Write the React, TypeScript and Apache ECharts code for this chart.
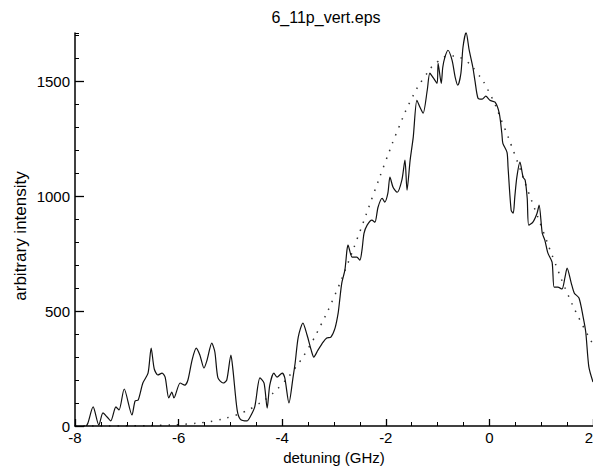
import React, { useEffect, useRef } from "react";
import * as echarts from "echarts";

const titleText = "6_11p_vert.eps";
const xName = "detuning (GHz)";
const yName = "arbitrary intensity";

const measX = [
  -7.78, -7.75, -7.65, -7.54, -7.46, -7.38, -7.31, -7.21, -7.15, -7.05, -6.9, -6.84, -6.78, -6.69, -6.59, -6.53,
  -6.47, -6.4, -6.32, -6.26, -6.19, -6.13, -6.09, -5.97, -5.88, -5.82, -5.74, -5.66, -5.59, -5.51, -5.45, -5.36,
  -5.3, -5.24, -5.14, -5.07, -4.99, -4.95, -4.87, -4.81, -4.68, -4.62, -4.53, -4.43, -4.35, -4.29, -4.24, -4.16,
  -4.1, -4.0, -3.95, -3.87, -3.79, -3.75, -3.69, -3.6, -3.52, -3.44, -3.39, -3.31, -3.21, -3.14, -3.06, -2.98,
  -2.92, -2.89, -2.85, -2.79, -2.75, -2.73, -2.65, -2.56, -2.5, -2.46, -2.42, -2.36, -2.27, -2.21, -2.15, -2.07,
  -2.02, -1.96, -1.92, -1.86, -1.78, -1.69, -1.63, -1.59, -1.53, -1.47, -1.4, -1.34, -1.28, -1.2, -1.15, -1.09,
  -1.01, -0.99, -0.93, -0.9, -0.86, -0.8, -0.72, -0.66, -0.61, -0.55, -0.51, -0.45, -0.39, -0.32, -0.28, -0.22,
  -0.14, -0.07, 0.01, 0.11, 0.19, 0.24, 0.26, 0.34, 0.36, 0.42, 0.46, 0.49, 0.53, 0.59, 0.65, 0.69,
  0.73, 0.76, 0.84, 0.92, 0.96, 1.02, 1.07, 1.13, 1.21, 1.25, 1.32, 1.4, 1.46, 1.5, 1.58, 1.64,
  1.73, 1.81, 1.86, 1.92, 2.0,
];
const measY = [
  0, 13, 83, 4, 57, 39, 22, 83, 70, 161, 48, 109, 113, 187, 230, 339,
  248, 222, 230, 213, 122, 148, 122, 187, 178, 200, 287, 339, 309, 252, 287, 361,
  322, 209, 187, 200, 309, 243, 70, 30, 22, 39, 83, 209, 187, 78, 178, 230,
  213, 230, 209, 100, 213, 274, 387, 448, 396, 330, 300, 330, 365, 383, 387, 426,
  491, 548, 622, 678, 765, 787, 735, 735, 722, 765, 839, 874, 896, 887, 952, 991,
  974, 1013, 1083, 1039, 1017, 1070, 1157, 1026, 1157, 1257, 1417, 1387, 1361, 1461, 1535, 1517,
  1491, 1578, 1491, 1561, 1604, 1635, 1591, 1517, 1483, 1535, 1648, 1713, 1635, 1561, 1504, 1426,
  1422, 1435, 1417, 1409, 1361, 1274, 1230, 1191, 1126, 939, 926, 996, 1083, 1148, 1083, 1070,
  991, 874, 887, 926, 961, 839, 809, 752, 713, 604, 604, 596, 648, 687, 622, 578,
  557, 474, 409, 257, 191,
];

const fitX = [
  -8, -7.75, -7.5, -7.25, -7, -6.75, -6.5, -6.25, -6, -5.75, -5.5, -5.25, -5, -4.75, -4.5, -4.25, -4,
  -3.75, -3.5, -3.25, -3, -2.75, -2.5, -2.25, -2, -1.75, -1.5, -1.25, -1, -0.75, -0.5, -0.25, 0,
  0.25, 0.5, 0.75, 1, 1.25, 1.5, 1.75, 2,
];
const fitY = [
  0, 0, 0, 0, 1, 1, 2, 4, 6, 10, 16, 25, 40, 60, 90, 129, 183,
  252, 337, 441, 561, 698, 846, 1001, 1154, 1299, 1425, 1520, 1585, 1610, 1595, 1540, 1450,
  1320, 1175, 1020, 870, 720, 580, 460, 355,
];

const yMajorTicks = [0, 500, 1000, 1500];

const FONT = "Liberation Sans, Arial, Helvetica, sans-serif";

export default function App() {
  const ref = useRef<HTMLDivElement>(null);
  useEffect(() => {
    if (!ref.current) return;
    const chart = echarts.init(ref.current, null, { renderer: "svg" });
    chart.setOption({
      animation: false,
      backgroundColor: "#ffffff",
      title: {
        text: titleText,
        left: 326,
        top: 9,
        padding: 0,
        textAlign: "center",
        textStyle: { fontFamily: FONT, fontSize: 16, fontWeight: "normal", color: "#000" },
      },
      grid: { left: 75, right: 0, top: 33, bottom: 43, containLabel: false, outerBoundsMode: "none" },
      xAxis: {
        type: "value",
        min: -8,
        max: 2,
        interval: 2,
        name: xName,
        nameLocation: "middle",
        nameGap: 22,
        nameTextStyle: { fontFamily: FONT, fontSize: 15, color: "#000" },
        axisLine: { show: true, onZero: false, lineStyle: { color: "#000", width: 1.5 } },
        axisTick: { show: true, inside: true, length: 7, lineStyle: { color: "#000", width: 1.3 } },
        minorTick: { show: true, splitNumber: 4, length: 4, lineStyle: { color: "#000", width: 1 } },
        splitLine: { show: false },
        minorSplitLine: { show: false },
        axisLabel: {
          color: "#000",
          fontFamily: FONT,
          fontSize: 15,
          margin: 4,
          alignMaxLabel: "right",
        },
        z: 10,
      },
      yAxis: [
        {
          type: "value",
          min: 0,
          max: 1710,
          interval: 500,
          position: "left",
          axisLine: { show: true, onZero: false, lineStyle: { color: "#000", width: 1.5 } },
          axisTick: {
            show: true,
            inside: true,
            length: 9,
            customValues: yMajorTicks,
            lineStyle: { color: "#000", width: 1.3 },
          },
          splitLine: { show: false },
          axisLabel: {
            color: "#000",
            fontFamily: FONT,
            fontSize: 15,
            margin: 5,
            showMaxLabel: false,
            formatter: (v: number) => (v % 500 === 0 ? String(v) : ""),
          },
          z: 10,
        },
        {
          type: "value",
          min: 0,
          max: 1710,
          interval: 100,
          position: "left",
          offset: 0,
          axisLine: { show: false, onZero: false },
          axisTick: { show: true, inside: true, length: 4, lineStyle: { color: "#000", width: 1 } },
          axisLabel: { show: false },
          splitLine: { show: false },
          z: 10,
        },
      ],
      graphic: [
        {
          type: "text",
          x: 20,
          y: 236,
          rotation: Math.PI / 2,
          style: {
            text: yName,
            fontFamily: FONT,
            fontSize: 17,
            fill: "#000",
            textAlign: "center",
            textVerticalAlign: "middle",
          },
        },
      ],
      series: [
        {
          type: "line",
          yAxisIndex: 0,
          data: fitX.map((x, i) => [x, fitY[i]]),
          smooth: true,
          showSymbol: false,
          silent: true,
          lineStyle: { color: "#333", width: 1.5, type: [1.5, 7] },
          z: 2,
        },
        {
          type: "line",
          yAxisIndex: 0,
          data: measX.map((x, i) => [x, measY[i]]),
          smooth: 0.25,
          showSymbol: false,
          silent: true,
          lineStyle: { color: "#111", width: 1.2 },
          z: 3,
        },
      ],
    });
    return () => chart.dispose();
  }, []);
  return (
    <div
      ref={ref}
      style={{ position: "fixed", left: 0, top: 0, width: 593, height: 469, background: "#fff" }}
    />
  );
}
